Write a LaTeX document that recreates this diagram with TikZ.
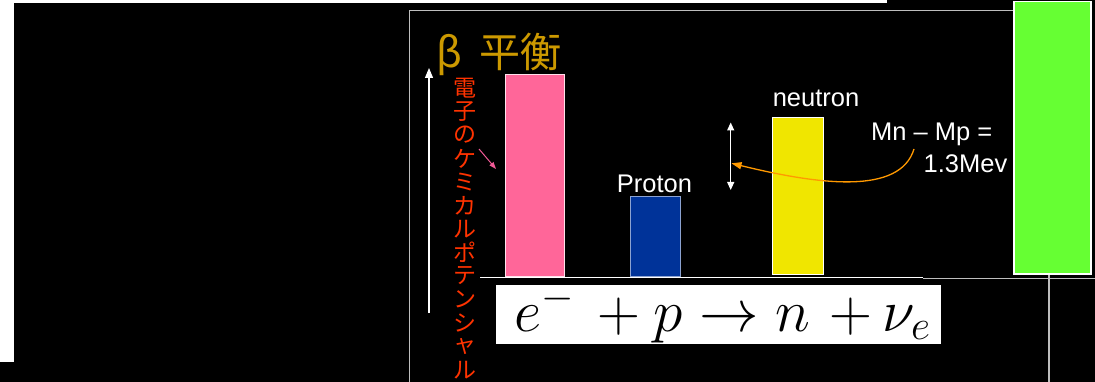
\RequirePackage{fix-cm}
\documentclass[tikz,border=0pt]{standalone}
\usepackage{fontspec}
\setmainfont{Liberation Sans}
\newfontfamily\cjkfont{Noto Sans CJK JP}
\usetikzlibrary{arrows.meta}
\definecolor{titlegold}{RGB}{204,153,0}
\definecolor{vred}{RGB}{255,51,0}
\definecolor{barpink}{RGB}{255,102,153}
\definecolor{barblue}{RGB}{0,51,153}
\definecolor{baryellow}{RGB}{240,230,0}
\definecolor{bargreen}{RGB}{102,255,51}
\definecolor{framegray}{RGB}{190,190,190}
\definecolor{curveorange}{RGB}{255,153,0}
\definecolor{pinkarrow}{RGB}{240,90,150}
\begin{document}
\begin{tikzpicture}[x=1pt,y=-1pt,
  bar/.style={draw, line width=1pt, inner sep=0pt, anchor=south west},
  lbl/.style={text=white, inner sep=0pt, font=\fontsize{25.5}{28}\selectfont},
  vchar/.style={text=vred, inner sep=0pt, font=\cjkfont\fontsize{23}{23}\selectfont},
  frameline/.style={draw=framegray, line width=1.4pt},
  whiteline/.style={draw=white, line width=1.2pt}]
\useasboundingbox (0,0) rectangle (1095,382);
% background
\fill[black] (0,0) rectangle (1095,382);
\fill[white] (0,0) rectangle (887,3);
\fill[white] (0,0) rectangle (14,362);
% frame lines
\draw[frameline] (1013,10.5) -- (409.3,10.5) -- (409.3,382);
\draw[frameline] (923,278.5) -- (1095,278.5);
\draw[frameline] (1049,275) -- (1049,382);
% bars
\node[bar, draw=white!80!barpink, fill=barpink, minimum width=59pt, minimum height=202pt] (ebar) at (504.5,277) {};
\node[bar, draw=white!55!barblue, fill=barblue, minimum width=50pt, minimum height=80pt] (pbar) at (630,277) {};
\node[bar, draw=white, fill=baryellow, minimum width=50.5pt, minimum height=156pt] (nbar) at (772,274.5) {};
\node[bar, draw=white, line width=1.5pt, fill=bargreen, minimum width=77pt, minimum height=272pt] (gbar) at (1013,274.5) {};
% baseline
\coordinate (bl1) at (480,277.5);
\coordinate (bl2) at (923,277.5);
\draw[whiteline] (bl1) -- (bl2);
% title
\node[text=titlegold, inner sep=0pt, anchor=base west, font=\cjkfont\fontsize{41}{41}\selectfont] (title) at (436,68) {β \kern8pt平衡};
% axis arrow
\coordinate (axbot) at (429,313);
\coordinate (axtop) at (429,68);
\draw[whiteline, -{Triangle[width=8pt,length=10pt]}] (axbot) -- (axtop);
% vertical text
\foreach \ch [count=\i] in {電,子,の,ケ,ミ,カ,ル,ポ,テ,ン,シ,ャ,ル}
  \node[vchar] (v\i) at (465,{88+(\i-1)*23.5}) {\ch};
% pink arrow
\coordinate (pa1) at (479,149);
\coordinate (pa2) at (496,169);
\draw[pinkarrow, line width=1pt, -{Triangle[width=5pt,length=7pt]}] (pa1) -- (pa2);
% labels
\node[lbl, anchor=base] (proton) at (654.5,192.7) {Proton};
\node[lbl, anchor=base] (neutron) at (816,106.7) {neutron};
\node[lbl, anchor=base west] (mnmp) at (871,141) {Mn – Mp =};
\node[lbl, anchor=base west] (mev) at (923.5,172.3) {1.3Mev};
% double arrow
\coordinate (dtop) at (730.7,122.5);
\coordinate (dbot) at (730.7,190);
\draw[whiteline, {Triangle[width=7pt,length=8pt]}-{Triangle[width=7pt,length=8pt]}] (dtop) -- (dbot);
% orange curve
\coordinate (cstart) at (914,149);
\coordinate (cend) at (731.5,163.3);
\draw[curveorange, line width=1.3pt, -{Triangle[width=7pt,length=10pt]}] (cstart) .. controls (900,195) and (820,185) .. (cend);
% equation
\node[fill=white, inner sep=0pt, minimum width=445pt, minimum height=59pt, anchor=north west] (eqbox) at (496,285) {};
\node[inner sep=0pt, anchor=base west, text=black, font=\fontsize{59.5}{62}\selectfont] (eq) at (514,331) {$e^{-}\mkern3mu+p\rightarrow n\mkern2mu+\mkern-1mu\nu_e$};
\end{tikzpicture}
\end{document}
